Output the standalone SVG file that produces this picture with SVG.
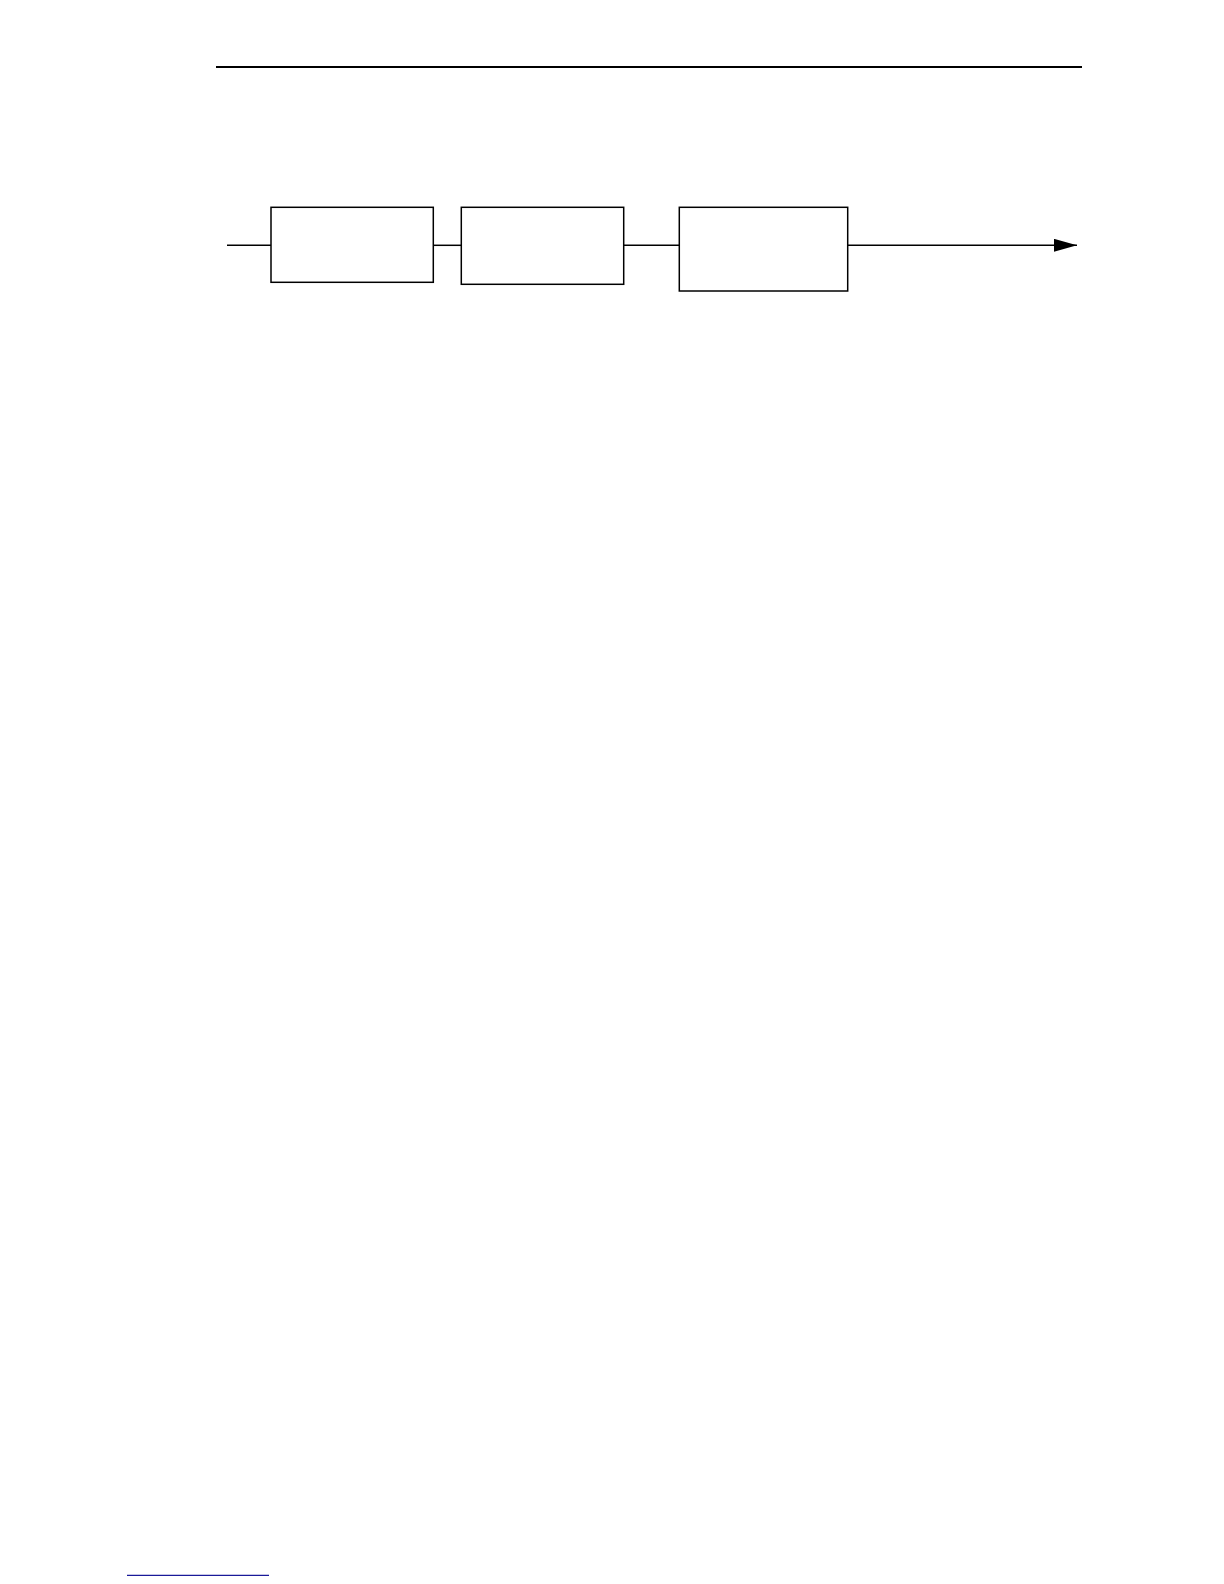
<svg xmlns="http://www.w3.org/2000/svg" width="1224" height="1584" viewBox="0 0 1224 1584">
<style>
.box{fill:#fff;stroke:#000;stroke-width:1.5}
.wire{stroke:#000;stroke-width:1.5;fill:none}
</style>
<defs>
<marker id="arr" markerWidth="23" markerHeight="13" refX="23" refY="6.5" orient="auto" markerUnits="userSpaceOnUse">
<path d="M0,0 L23,6.5 L0,13 z" fill="#000"/>
</marker>
</defs>
<rect width="1224" height="1584" fill="#fff"/>
<line x1="216" y1="67" x2="1082" y2="67" stroke="#000" stroke-width="2.2"/>
<g id="connectors">
<line class="wire" x1="227" y1="245.3" x2="271" y2="245.3"/>
<line class="wire" x1="433.3" y1="245.3" x2="461.3" y2="245.3"/>
<line class="wire" x1="623.7" y1="245.3" x2="679.3" y2="245.3"/>
<line class="wire" x1="847.7" y1="245.3" x2="1077" y2="245.3" marker-end="url(#arr)"/>
</g>
<g id="node1"><rect class="box" x="271" y="207.3" width="162.3" height="75"/></g>
<g id="node2"><rect class="box" x="461.3" y="207.3" width="162.4" height="77"/></g>
<g id="node3"><rect class="box" x="679.3" y="207.3" width="168.4" height="83.7"/></g>
<line x1="127" y1="1575.3" x2="269" y2="1575.3" stroke="#1a1a99" stroke-width="1.2"/>
</svg>
